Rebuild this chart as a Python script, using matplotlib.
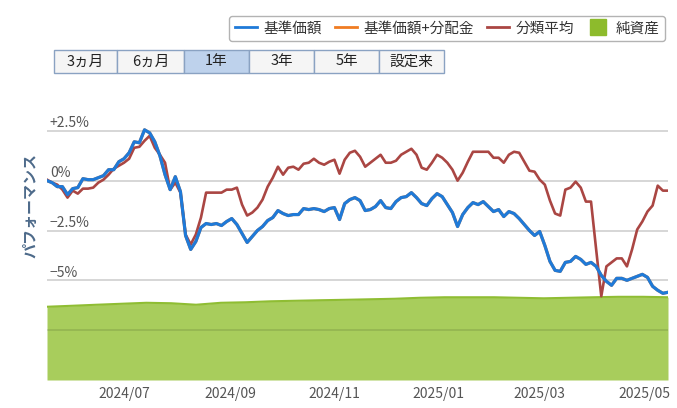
import matplotlib
matplotlib.use('Agg')
import matplotlib.pyplot as plt
import matplotlib.dates as mdates
from matplotlib.patches import Rectangle
from matplotlib.lines import Line2D
import pandas as pd

plt.rcParams['font.family'] = ['Noto Sans CJK JP', 'DejaVu Sans']

# performance (%) sampled every 3 days from 2024-05-17
nav = [0.00, -0.10, -0.30, -0.30, -0.70, -0.40, -0.35, 0.10, 0.05, 0.05,
       0.15, 0.25, 0.55, 0.55, 0.95, 1.10, 1.40, 1.95, 1.90, 2.55,
       2.40, 1.95, 1.25, 0.30, -0.45, 0.20, -0.55, -2.75, -3.45, -3.05,
       -2.35, -2.15, -2.20, -2.15, -2.25, -2.05, -1.90, -2.20, -2.65, -3.10,
       -2.80, -2.50, -2.30, -2.00, -1.85, -1.50, -1.65, -1.75, -1.70, -1.70,
       -1.40, -1.45, -1.40, -1.45, -1.55, -1.40, -1.35, -1.95, -1.15, -0.95,
       -0.85, -1.00, -1.50, -1.45, -1.30, -1.00, -1.35, -1.40, -1.05, -0.85,
       -0.80, -0.60, -0.85, -1.15, -1.25, -0.90, -0.65, -0.80, -1.20, -1.60,
       -2.30, -1.70, -1.35, -1.10, -1.20, -1.05, -1.30, -1.55, -1.45, -1.80,
       -1.55, -1.65, -1.90, -2.20, -2.50, -2.75, -2.55, -3.25, -4.05, -4.50,
       -4.55, -4.10, -4.05, -3.80, -3.95, -4.20, -4.10, -4.30, -4.75, -5.05,
       -5.25, -4.90, -4.90, -5.00, -4.90, -4.80, -4.70, -4.85, -5.30, -5.50,
       -5.65, -5.60]
nav_div = nav  # 基準価額+分配金 (no distributions -> same as nav)
category = [0.05, -0.10, -0.20, -0.45, -0.85, -0.50, -0.65, -0.40, -0.40, -0.35,
            -0.10, 0.05, 0.30, 0.60, 0.75, 0.90, 1.10, 1.65, 1.70, 2.00,
            2.25, 1.65, 1.30, 0.90, -0.45, -0.10, -0.60, -2.70, -3.20, -2.70,
            -1.85, -0.60, -0.60, -0.60, -0.60, -0.45, -0.45, -0.35, -1.20, -1.75,
            -1.60, -1.35, -0.95, -0.30, 0.15, 0.70, 0.30, 0.65, 0.70, 0.55,
            0.85, 0.90, 1.10, 0.90, 0.80, 0.95, 1.05, 0.35, 1.05, 1.40,
            1.50, 1.20, 0.70, 0.90, 1.10, 1.30, 0.90, 0.90, 1.00, 1.30,
            1.45, 1.60, 1.30, 0.65, 0.55, 0.90, 1.30, 1.15, 0.90, 0.55,
            0.00, 0.40, 0.95, 1.45, 1.45, 1.45, 1.45, 1.15, 1.15, 0.90,
            1.30, 1.45, 1.40, 0.95, 0.50, 0.45, 0.05, -0.20, -1.00, -1.65,
            -1.75, -0.45, -0.35, -0.05, -0.35, -1.05, -1.05, -3.45, -5.80, -4.30,
            -4.10, -3.90, -3.90, -4.30, -3.45, -2.45, -2.05, -1.55, -1.25, -0.25,
            -0.50, -0.50]
dates = pd.date_range('2024-05-17', periods=len(nav), freq='3D')

# net assets (secondary scale)
assets = [98.0, 99.3, 100.7, 102.0, 103.3, 102.7, 100.7, 103.3, 104.0, 105.3,
          106.0, 106.7, 107.3, 108.0, 108.7, 110.0, 110.7, 110.7, 110.7, 110.0,
          109.3, 110.0, 110.7, 111.3, 111.3, 110.7]
asset_dates = pd.date_range('2024-05-17', '2025-05-15', periods=len(assets))

yticks = [2.5, 0, -2.5, -5]
ytick_labels = ['+2.5%', '0%', '\u22122.5%', '\u22125%']
grid_vals = [2.5, 0, -2.5, -5, -7.5]
buttons = ['3ヵ月', '6ヵ月', '1年', '3年', '5年', '設定来']
selected = '1年'

W, H = 677, 408


def fx(px):
    return px / W


def fy(py):
    return 1 - py / H


fig = plt.figure(figsize=(W / 100, H / 100), dpi=100)
rect = [fx(47), fy(380), fx(668) - fx(47), fy(81) - fy(380)]
ax_area = fig.add_axes(rect)
ax = ax_area.twinx()

ax_area.fill_between(asset_dates, 0, assets, color='#a8cd5c', lw=0)
ax_area.plot(asset_dates, assets, color='#8fbd33', lw=1.5)
ax_area.set_ylim(0, 400)

for g in grid_vals:
    ax.axhline(g, color='k', alpha=0.12 if g < -6 else 0.19, lw=1.2, zorder=0)
ax.plot(dates, nav_div, color='#f07c22', lw=2.2, zorder=2)
ax.plot(dates, category, color='#aa4643', lw=1.9, zorder=3)
ax.plot(dates, nav, color='#1f7ad8', lw=2.3, zorder=4)
ax.set_ylim(-10, 5)
ax.set_xlim(pd.Timestamp('2024-05-17'), pd.Timestamp('2025-05-15'))

for a in (ax, ax_area):
    for s in a.spines.values():
        s.set_visible(False)
    a.set_yticks([])
ax_area.patch.set_visible(False)

ax_area.xaxis.set_major_locator(mdates.MonthLocator(bymonth=[1, 3, 5, 7, 9, 11]))
ax_area.xaxis.set_major_formatter(mdates.DateFormatter('%Y/%m'))
ax_area.tick_params(axis='x', length=0, pad=5, labelsize=10, labelcolor='#555555')

for v, lbl in zip(yticks, ytick_labels):
    ax.annotate(lbl, (0, v), xycoords=ax.get_yaxis_transform(), xytext=(2, 0.3),
                textcoords='offset points', va='bottom', ha='left',
                fontsize=10, color='#555555')

fig.text(fx(30), fy(206), 'パフォーマンス', rotation=90, ha='center', va='center',
         fontsize=10.8, fontweight='bold', color='#4d6a8a')

# legend
handles = [Line2D([], [], color='#1f7ad8', lw=2),
           Line2D([], [], color='#f07c22', lw=2),
           Line2D([], [], color='#aa4643', lw=2),
           Line2D([], [], color='#8dbb2c', marker='s', markersize=11, lw=0)]
labels = ['基準価額', '基準価額+分配金', '分類平均', '純資産']
leg = fig.legend(handles, labels, loc='center', bbox_to_anchor=(fx(447), fy(28.5)),
                 ncol=4, fontsize=10.5, frameon=True, fancybox=True,
                 handlelength=1.5, handletextpad=0.45, columnspacing=0.9,
                 borderpad=0.4, labelcolor='#333333')
leg.get_frame().set_edgecolor('#a0a0a0')
leg.get_frame().set_linewidth(1.0)

# period buttons
edges = [54, 117, 184, 249, 314, 379, 444]
for i, b in enumerate(buttons):
    x0, x1 = edges[i], edges[i + 1]
    face = '#bed2ec' if b == selected else '#f5f5f5'
    fig.patches.append(Rectangle((fx(x0), fy(73)), fx(x1) - fx(x0), fy(50) - fy(73),
                                 transform=fig.transFigure, facecolor=face,
                                 edgecolor='#8aa2c2', lw=1.0))
    fig.text(fx((x0 + x1) / 2), fy(61.5), b, ha='center', va='center',
             fontsize=10.5, color='#222222')

fig.savefig('out.png', dpi=100)
